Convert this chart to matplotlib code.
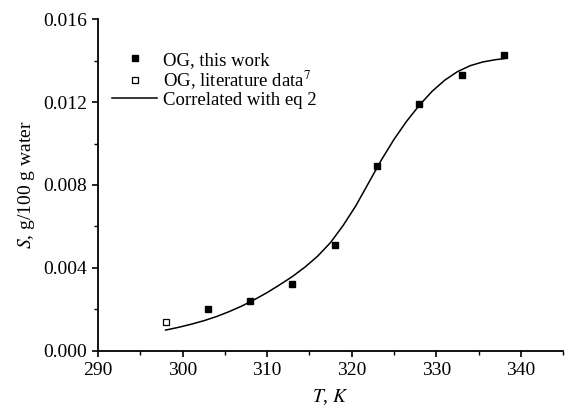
import matplotlib
matplotlib.use("Agg")
import matplotlib.pyplot as plt
from matplotlib.ticker import MultipleLocator, FormatStrFormatter

plt.rcParams["font.family"] = ["Liberation Serif", "DejaVu Serif"]
plt.rcParams["mathtext.fontset"] = "stix"

# measured solubility (this work)
T_work = [303, 308, 313, 318, 323, 328, 333, 338]
S_work = [0.0020, 0.0024, 0.0032, 0.0051, 0.0089, 0.0119, 0.0133, 0.0143]

# literature value
T_lit = [298]
S_lit = [0.0014]

# correlation curve (eq 2)
T_fit = [298, 299.5, 301, 302.5, 304, 305.5, 307, 308.5, 310, 311.5,
         313, 314.5, 316, 317.5, 319, 320.5, 322, 323.5, 325, 326.5,
         328, 329.5, 331, 332.5, 334, 335.5, 337, 338]
S_fit = [0.00099, 0.00112, 0.00127, 0.00144, 0.00164, 0.00188, 0.00215,
         0.00246, 0.00280, 0.00318, 0.00358, 0.00404, 0.00457, 0.00522,
         0.00605, 0.00700, 0.00810, 0.00920, 0.01020, 0.01108, 0.01185,
         0.01252, 0.01306, 0.01347, 0.01376, 0.01394, 0.01405, 0.01410]

fig = plt.figure(figsize = (5.66, 4.11), dpi = 100)
ax = fig.add_axes([0.173, 0.147, 0.822, 0.806])

ax.plot(T_work, S_work, "s", color = "black", markersize = 5,
        linestyle = "none", label = "OG, this work")
ax.plot(T_lit, S_lit, "s", markerfacecolor = "white",
        markeredgecolor = "black", markersize = 5, markeredgewidth = 0.9,
        linestyle = "none", label = r"OG, literature data$^{7}$")
ax.plot(T_fit, S_fit, "-", color = "black", linewidth = 1.1,
        label = "Correlated with eq 2")

ax.set_xlim(290, 345)
ax.set_ylim(0, 0.016)
ax.xaxis.set_major_locator(MultipleLocator(10))
ax.xaxis.set_minor_locator(MultipleLocator(5))
ax.yaxis.set_major_locator(MultipleLocator(0.004))
ax.yaxis.set_minor_locator(MultipleLocator(0.002))
ax.yaxis.set_major_formatter(FormatStrFormatter("%.3f"))

for side in ["top", "right"]:
    ax.spines[side].set_visible(False)
for side in ["left", "bottom"]:
    ax.spines[side].set_linewidth(1.3)

ax.tick_params(which = "major", direction = "out", length = 4.5, width = 1.2,
               labelsize = 14)
ax.tick_params(which = "minor", direction = "out", length = 3, width = 1.0)

ax.set_xlabel(r"$T$, $K$", fontsize = 14, labelpad = 6)
ax.set_ylabel(r"$S$, g/100 g water", fontsize = 14, labelpad = 4)

ax.legend(loc = "upper left", bbox_to_anchor = (0.015, 0.925), frameon = False,
          fontsize = 13.5, handlelength = 2.4, handletextpad = 0.3,
          labelspacing = 0.0, borderaxespad = 0.0)

fig.savefig("out.png", dpi = 100)
